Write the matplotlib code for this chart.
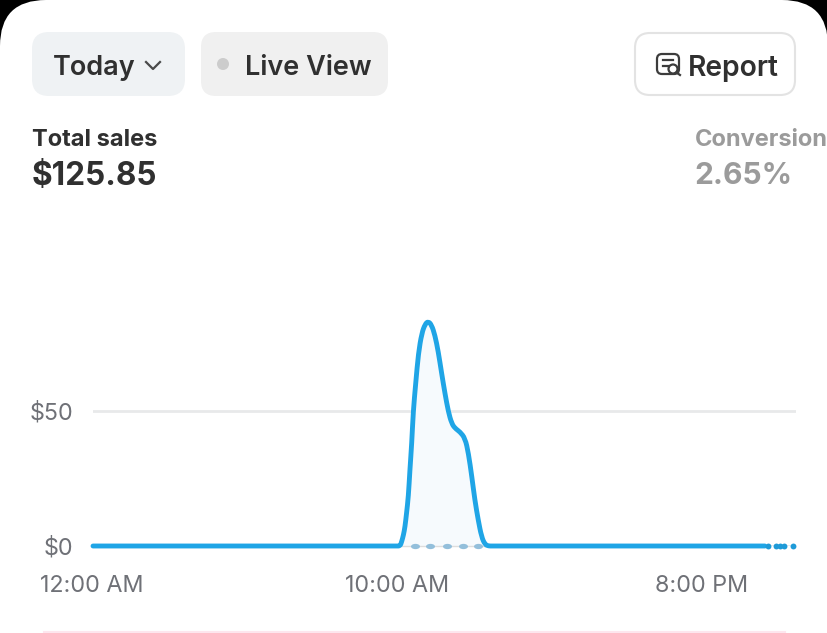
import matplotlib
matplotlib.use('Agg')
import matplotlib.pyplot as plt
from matplotlib.patches import FancyBboxPatch, Circle, PathPatch
from matplotlib.path import Path
from matplotlib.transforms import Affine2D, ScaledTranslation

plt.rcParams['font.family'] = ['Inter', 'DejaVu Sans']

W, H = 828, 633

# hours since midnight / dollars
hours = [0, 5, 9.95, 10.07, 10.12, 10.18, 10.23, 10.28, 10.34, 10.39, 10.45, 10.5, 10.58, 10.67, 10.78,
         10.89, 10.99, 11.1, 11.21, 11.32, 11.43, 11.54, 11.65, 11.76, 11.87, 12.03, 12.2,
         12.31, 12.42, 12.52, 12.63, 12.74, 12.85, 12.96, 13.1, 17, 22.03]
sales = [0, 0, 0, 0, 1.6, 4.1, 7.2, 12.1, 18.3, 28.1, 38, 49.8, 60.2, 71.4, 78.8,
         82.2, 83.2, 81.9, 78.1, 72, 64, 56.5, 49.8, 45.4, 43.6, 42.3, 39.9,
         34.3, 25.7, 17, 9.6, 3.4, 0.6, 0, 0, 0, 0]
dot_hours = [22.13, 22.39, 22.52, 22.65, 22.95]
dot_sales = [0, 0, 0, 0, 0]
prev_hours = [10.56, 11.05, 11.61, 12.13, 12.62]
prev_sales = [0, 0, 0, 0, 0]

x_ticks = [0, 10, 20]
x_labels = ['12:00 AM', '10:00 AM', '8:00 PM']
y_ticks = [0, 50]
y_labels = ['$0', '$50']

BLUE = '#1fa5e6'
DARK = '#303030'
GREY = '#9b9b9b'
TICK = '#6f7177'

fig = plt.figure(figsize=(W / 100, H / 100), dpi=100, facecolor='black')


def px_box(left, top, right, bottom):
    return [left / W, 1 - bottom / H, (right - left) / W, (bottom - top) / H]


# the phone card + buttons, drawn in pixel coords
ui = fig.add_axes([0, 0, 1, 1])
ui.set_xlim(0, W)
ui.set_ylim(H, 0)
ui.axis('off')


def button(left, top, right, bottom, r, face, edge='none', lw=0):
    ui.add_patch(FancyBboxPatch((left + r, top + r), right - left - 2 * r, bottom - top - 2 * r,
                                boxstyle=f'round,pad={r},rounding_size={r}',
                                fc=face, ec=edge, lw=lw))


button(0, 0, W, H + 80, 46, 'white')
button(32, 32, 185, 96, 17, '#eff2f4')
button(201, 32, 388, 96, 15, '#f0f0f0')
button(635, 33, 795, 95, 15, 'white', '#e3e3e3', 1.5)

ui.text(53, 65, 'Today', fontsize=19.5, fontweight='semibold', color=DARK, va='center_baseline')
ui.plot([146, 153, 160], [62, 69, 62], color='#4a4a4a', lw=1.6)
ui.add_patch(Circle((223, 64), 6, fc='#cccccc', ec='none'))
ui.text(245, 65, 'Live View', fontsize=19.5, fontweight='semibold', color=DARK, va='center_baseline')
ui.text(688, 65, 'Report', fontsize=20.3, fontweight='semibold', color=DARK, va='center_baseline')

# report icon
button(657, 54, 679, 74, 5, 'none', '#3c3c3c', 1.6)
ui.plot([663, 673], [60, 60], color='#3c3c3c', lw=1.6)
ui.plot([663, 668], [66, 66], color='#3c3c3c', lw=1.6)
ui.add_patch(Circle((673, 69), 4.5, fc='white', ec='#3c3c3c', lw=1.6))
ui.plot([676.5, 680], [72.5, 75], color='#3c3c3c', lw=1.6)

ui.text(32, 137, 'Total sales', fontsize=17, fontweight='bold', color=DARK, va='center_baseline')
ui.text(32, 173, '$125.85', fontsize=22.7, fontweight='bold', color=DARK, va='center_baseline')
ui.text(695, 137, 'Conversion', fontsize=17, fontweight='bold', color=GREY, va='center_baseline')
ui.text(694, 173, '2.65%', fontsize=21.6, fontweight='bold', color=GREY, va='center_baseline')

ui.plot([44, 785], [632, 632], color='#fde6ee', lw=1.5)

# the chart itself
ax = fig.add_axes(px_box(93, 250, 796, 546))
ax.patch.set_alpha(0)
ax.set_xlim(0, 703 / 30.5)
ax.set_ylim(0, 296 / 2.7)
for s in ax.spines.values():
    s.set_visible(False)

ax.set_yticks(y_ticks, y_labels)
ax.set_xticks(x_ticks, x_labels)
ax.tick_params(axis='both', length=0, labelsize=16.8, labelcolor=TICK)
ax.tick_params(axis='y', pad=14)
ax.tick_params(axis='x', pad=21)
shift = ScaledTranslation(-1 / 100, 0, fig.dpi_scale_trans)
for t in ax.get_xticklabels():
    t.set_transform(t.get_transform() + shift)
ax.yaxis.grid(True, color='#e8e9ea', lw=2)
ax.set_axisbelow(True)

ax.fill_between(hours, sales, 0, color='#f6fafd', lw=0)
ax.plot(hours, [0] * len(hours), color='#dddddd', lw=1, clip_on=False)
dash = Path.unit_circle().transformed(Affine2D().scale(1.7, 1))
ax.scatter(prev_hours, prev_sales, s=42, marker=dash, color='#93bfdb', lw=0, clip_on=False, zorder=3)

# smooth the drawn stroke: read points act as quadratic control points
verts = [(hours[0], sales[0])]
codes = [Path.MOVETO]
for i in range(1, len(hours) - 1):
    verts.append((hours[i], sales[i]))
    verts.append(((hours[i] + hours[i + 1]) / 2, (sales[i] + sales[i + 1]) / 2))
    codes += [Path.CURVE3, Path.CURVE3]
verts.append((hours[-1], sales[-1]))
codes.append(Path.LINETO)
ax.add_patch(PathPatch(Path(verts, codes), fc='none', ec=BLUE, lw=3.5, capstyle='round',
                       joinstyle='round', clip_on=False, zorder=4))
ax.scatter(dot_hours, dot_sales, s=18, color='#1f9bd8', lw=0, clip_on=False, zorder=4)

fig.savefig('out.png', dpi=100, facecolor='black')
